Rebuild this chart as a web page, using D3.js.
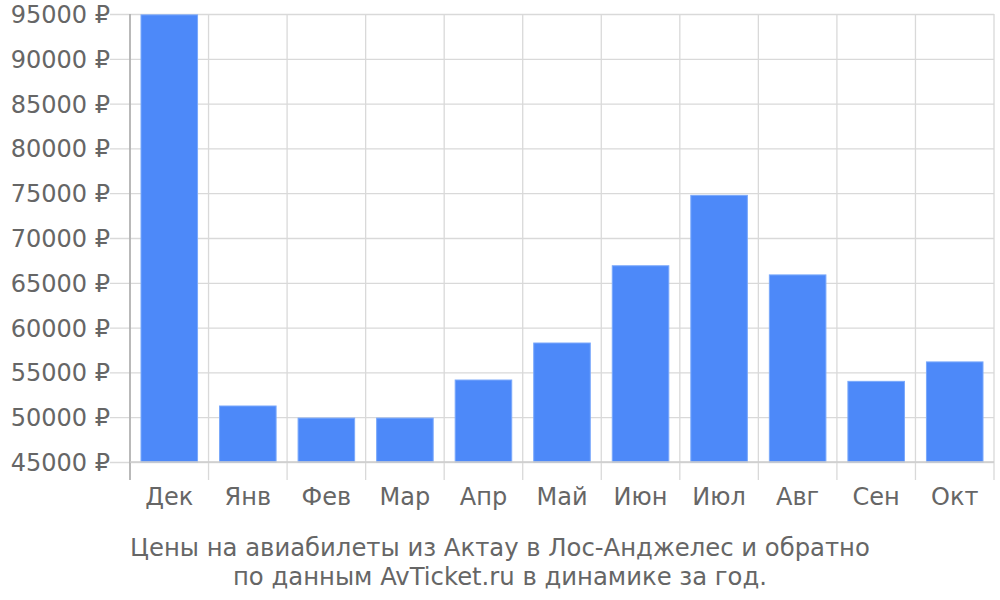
<!DOCTYPE html>
<html>
<head>
<meta charset="utf-8">
<script src="https://cdn.jsdelivr.net/npm/d3@7"></script>
<style>
  body { margin: 0; background: #fff; }
  text { font-family: "DejaVu Sans", sans-serif; fill: #666; }
</style>
</head>
<body>
<div id="chart"></div>
<script>
var months = ["Дек", "Янв", "Фев", "Мар", "Апр", "Май", "Июн", "Июл", "Авг", "Сен", "Окт"];
var prices = [94900, 51250, 49900, 49900, 54150, 58280, 66900, 74760, 65880, 54000, 56170];
var yTicks = [45000, 50000, 55000, 60000, 65000, 70000, 75000, 80000, 85000, 90000, 95000];
var titleLines = ["Цены на авиабилеты из Актау в Лос-Анджелес и обратно",
                  "по данным AvTicket.ru в динамике за год."];

var w = 1000, h = 600;
var plotLeft = 130, plotRight = 994, plotTop = 14, plotBottom = 462;

var svg = d3.select("#chart").append("svg")
    .attr("width", w)
    .attr("height", h);

var x = d3.scaleBand()
    .domain(months)
    .range([plotLeft, plotRight])
    .paddingInner(0.28)
    .paddingOuter(0.14);

var y = d3.scaleLinear()
    .domain([45000, 95000])
    .range([plotBottom, plotTop]);

// horizontal grid + y labels
svg.append("g")
    .attr("transform", "translate(" + plotLeft + ",0)")
    .call(d3.axisLeft(y).tickValues(yTicks).tickSize(-(plotRight - plotLeft)).tickSizeOuter(0)
        .tickFormat(function(d){ return d + " ₽"; }).tickPadding(20))
    .call(function(g){
        g.select(".domain").remove();
        g.selectAll(".tick line").attr("stroke", "#d9d9d9").attr("x1", -20).attr("stroke-width", 1.3);
        g.selectAll(".tick text").attr("font-size", "24px").attr("fill", "#666").attr("dy", "0.35em");
    });

// vertical grid lines at band edges
var edges = months.map(function(m){ return x(m) - x.step() * x.paddingInner() / 2; });
edges.push(plotRight);
svg.append("g").selectAll("line")
    .data(edges)
    .enter()
    .append("line")
    .attr("x1", function(d){ return d; })
    .attr("x2", function(d){ return d; })
    .attr("y1", plotTop)
    .attr("y2", 480)
    .attr("stroke", "#d9d9d9")
    .attr("stroke-width", 1.3);

// bars
svg.append("g").selectAll("rect")
    .data(prices)
    .enter()
    .append("rect")
    .attr("x", function(d, i){ return x(months[i]); })
    .attr("width", x.bandwidth())
    .attr("y", function(d){ return y(d); })
    .attr("height", function(d){ return y(45000) - y(d); })
    .attr("fill", "#4d89f9")
    .attr("stroke", "#7aa8fb")
    .attr("stroke-width", 1);

// axis lines
svg.append("line")
    .attr("x1", plotLeft).attr("x2", plotLeft)
    .attr("y1", plotTop).attr("y2", 480)
    .attr("stroke", "#aaa").attr("stroke-width", 1.5);
svg.append("line")
    .attr("x1", plotLeft).attr("x2", plotRight)
    .attr("y1", plotBottom).attr("y2", plotBottom)
    .attr("stroke", "#ccc").attr("stroke-width", 1.5);

// x labels
svg.append("g").selectAll("text")
    .data(months)
    .enter()
    .append("text")
    .text(function(d){ return d; })
    .attr("x", function(d){ return x(d) + x.bandwidth() / 2; })
    .attr("y", 505)
    .attr("text-anchor", "middle")
    .attr("font-size", "24px");

// title
svg.append("g").selectAll("text")
    .data(titleLines)
    .enter()
    .append("text")
    .text(function(d){ return d; })
    .attr("x", 500)
    .attr("y", function(d, i){ return 556 + i * 29; })
    .attr("text-anchor", "middle")
    .attr("font-size", "24.3px");
</script>
</body>
</html>
